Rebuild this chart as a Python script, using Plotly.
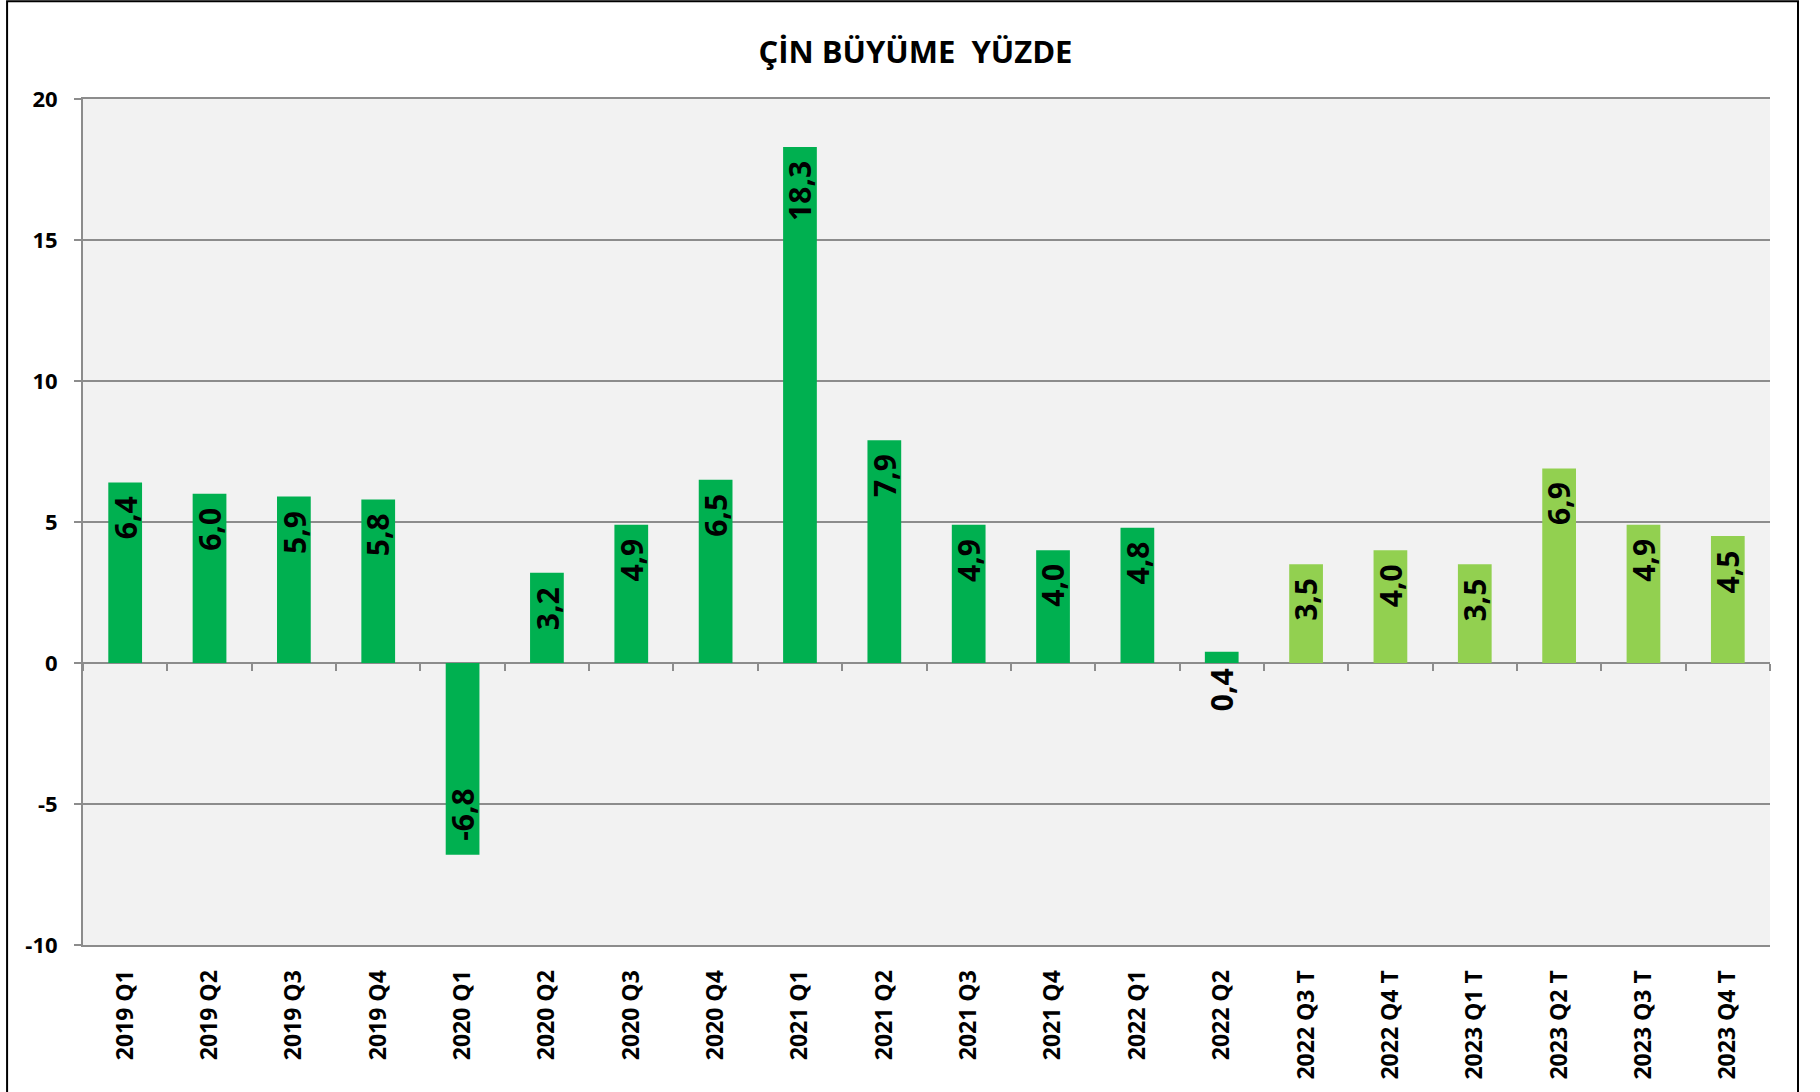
import plotly.graph_objects as go

categories = ["2019 Q1", "2019 Q2", "2019 Q3", "2019 Q4", "2020 Q1", "2020 Q2", "2020 Q3",
              "2020 Q4", "2021 Q1", "2021 Q2", "2021 Q3", "2021 Q4", "2022 Q1", "2022 Q2",
              "2022 Q3 T", "2022 Q4 T", "2023 Q1 T", "2023 Q2 T", "2023 Q3 T", "2023 Q4 T"]
values = [6.4, 6.0, 5.9, 5.8, -6.8, 3.2, 4.9, 6.5, 18.3, 7.9, 4.9, 4.0, 4.8, 0.4,
          3.5, 4.0, 3.5, 6.9, 4.9, 4.5]
y_ticks = [-10, -5, 0, 5, 10, 15, 20]

ACTUAL = "#00B050"
FORECAST = "#92D050"
GRID = "#8C8C8C"
FONT = "Open Sans"

colors = [FORECAST if c.endswith(" T") else ACTUAL for c in categories]
labels = [f"{v:.1f}".replace(".", ",") for v in values]
x_range = [-0.5, len(categories) - 0.5]

fig = go.Figure()
fig.add_trace(go.Bar(x=categories, y=values, marker=dict(color=colors, line=dict(width=0)),
                     width=0.4, hoverinfo="x+y"))
# invisible helper trace for the x axis drawn at y = 0 (tick marks between categories)
fig.add_trace(go.Scatter(x=categories, y=values, xaxis="x2", mode="markers",
                         marker=dict(opacity=0), hoverinfo="skip", showlegend=False))

annotations = []
for c, v, t in zip(categories, values, labels):
    if v >= 1:
        annotations.append(dict(x=c, y=v, yanchor="top", yshift=-12, text=t))
    elif v < 0:
        annotations.append(dict(x=c, y=v, yanchor="bottom", yshift=12, text=t))
    else:
        annotations.append(dict(x=c, y=0, yanchor="top", yshift=-3, text=t))
for a in annotations:
    a.update(xref="x", yref="y", showarrow=False, textangle=-90, xanchor="center",
             font=dict(family=FONT, size=30, color="black", weight="bold"))

fig.update_layout(
    width=1820, height=1092,
    margin=dict(l=83, r=50, t=99, b=145),
    paper_bgcolor="white", plot_bgcolor="#F2F2F2",
    showlegend=False,
    title=dict(text="ÇİN BÜYÜME \u00a0YÜZDE", xref="container", x=0.503, xanchor="center",
               yref="container", y=0.952, yanchor="middle",
               font=dict(family=FONT, size=31, color="black", weight="bold")),
    xaxis=dict(type="category", categoryorder="array", categoryarray=categories,
               range=x_range,
               tickangle=-90, ticks="outside", ticklen=14, tickcolor="rgba(0,0,0,0)",
               tickfont=dict(family=FONT, size=23, color="black", weight="bold"),
               showline=True, linecolor=GRID, linewidth=2, mirror=True,
               showgrid=False, fixedrange=True),
    xaxis2=dict(type="category", overlaying="x", matches="x", anchor="free", position=1/3,
                side="bottom", ticks="outside", tickson="boundaries", ticklen=7,
                tickcolor=GRID, tickwidth=2, showticklabels=False, showline=False,
                showgrid=False),
    yaxis=dict(range=[-10, 20], tickvals=y_ticks, ticktext=[str(v) for v in y_ticks],
               showgrid=True, gridcolor=GRID, gridwidth=2,
               zeroline=True, zerolinecolor=GRID, zerolinewidth=2,
               showline=True, linecolor=GRID, linewidth=2,
               ticks="outside", ticklen=7, tickcolor=GRID, tickwidth=2,
               ticklabelstandoff=12,
               tickfont=dict(family=FONT, size=22, color="black", weight="bold")),
    annotations=annotations,
    shapes=[dict(type="rect", xref="paper", yref="paper",
                 x0=-0.045, x1=1.0166, y0=-0.18, y1=1.1156,
                 line=dict(color="black", width=2), fillcolor="rgba(0,0,0,0)", layer="above")],
)

fig.write_html("out.html", config={"displayModeBar": False},
               post_script="document.body.style.margin='0';")
